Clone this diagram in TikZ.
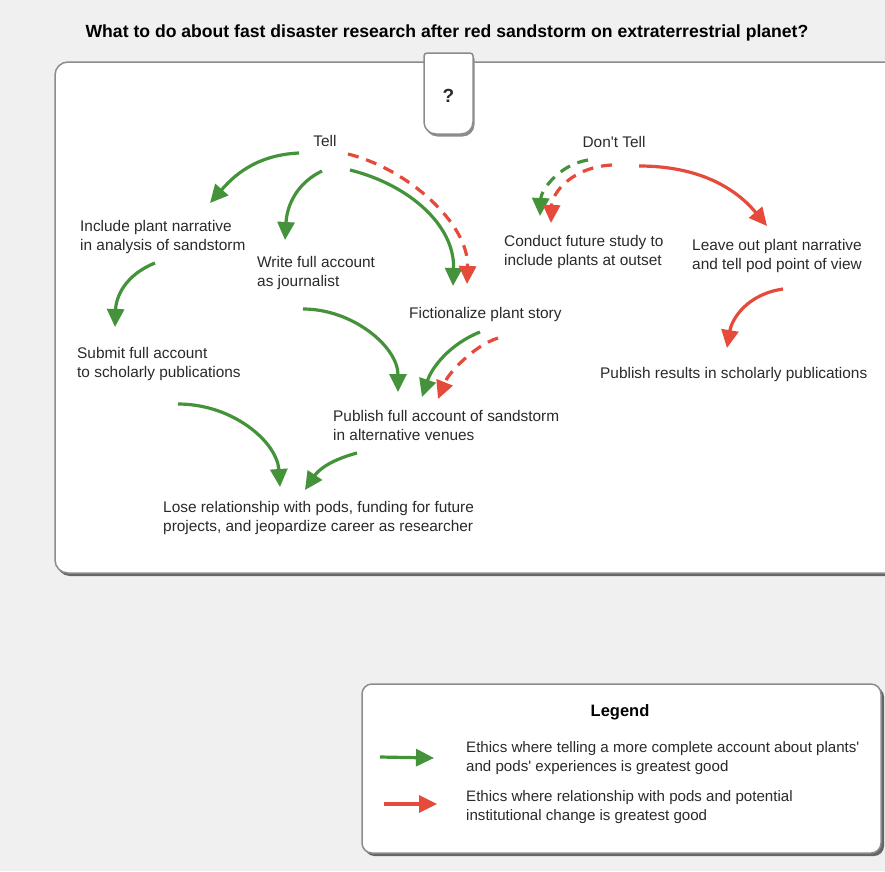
\documentclass[tikz,border=0pt]{standalone}
\usepackage{fontspec}
\setmainfont{Liberation Sans}
\usetikzlibrary{arrows.meta}
\definecolor{bggray}{HTML}{F0F0F0}
\definecolor{boxline}{HTML}{8C8C8C}
\definecolor{gArrow}{HTML}{44923A}
\definecolor{rArrow}{HTML}{E54A3A}
\definecolor{txt}{HTML}{2A2A2A}
\tikzset{
  lbl/.style={font=\fontsize{15.4}{19}\selectfont, align=left, inner sep=0pt, text=txt},
  ttl/.style={font=\bfseries\fontsize{17.6}{19}\selectfont, inner sep=0pt, text=black},
  garrow/.style={draw=gArrow, line width=3.2pt, -{Triangle[length=18pt,width=17pt]}},
  rarrow/.style={draw=rArrow, line width=3.2pt, -{Triangle[length=18pt,width=17pt]}},
  dsh/.style={dash pattern=on 11pt off 8pt},
  boxstyle/.style={fill=white, draw=boxline, line width=1.5pt},
  shadowstyle/.style={fill=black!60},
}
\begin{document}
\begin{tikzpicture}[x=1pt,y=-1pt]
\useasboundingbox (0,0) rectangle (885,871);
\clip (0,0) rectangle (885,871);
\fill[bggray] (0,0) rectangle (885,871);

% title
\node[ttl] (title) at (447,33) {What to do about fast disaster research after red sandstorm on extraterrestrial planet?};

% main box
\fill[shadowstyle, rounded corners=13pt] (57,65.5) rectangle (930,576);
\draw[boxstyle, rounded corners=13pt] (55,62) rectangle (930,573);

% question box
\fill[black!45] (450,136.5) [rounded corners=12pt] -- (425.5,136.5) [rounded corners=3pt] -- (425.5,56) -- (474.5,56) [rounded corners=12pt] -- (474.5,136.5) -- cycle;
\draw[boxstyle] (448,134) [rounded corners=12pt] -- (424,134) [rounded corners=3pt] -- (424,53) -- (473,53) [rounded corners=12pt] -- (473,134) -- cycle;
\node[font=\bfseries\fontsize{19}{21}\selectfont, inner sep=0pt, text=txt] (q) at (448.5,96) {?};

% nodes
\node[lbl] (tell) at (325,141) {Tell};
\node[lbl] (dtell) at (614,142) {Don\textquotesingle t Tell};
\node[lbl, anchor=west] (incl) at (80,237.5) {Include plant narrative\\in analysis of sandstorm};
\node[lbl, anchor=west] (write) at (257,273.5) {Write full account\\as journalist};
\node[lbl, anchor=west] (fict) at (409,315) {Fictionalize plant story};
\node[lbl, anchor=west] (subm) at (77,364) {Submit full account\\to scholarly publications};
\node[lbl, anchor=west] (publ) at (333,425.5) {Publish full account of sandstorm\\in alternative venues};
\node[lbl, anchor=west] (lose) at (163,518.5) {Lose relationship with pods, funding for future\\projects, and jeopardize career as researcher};
\node[lbl, anchor=west] (cond) at (504,252.5) {Conduct future study to\\include plants at outset};
\node[lbl, anchor=west] (leave) at (692,256.5) {Leave out plant narrative\\and tell pod point of view};
\node[lbl, anchor=west] (pubr) at (600,375) {Publish results in scholarly publications};

% arrow end coordinates
\coordinate (a1s) at (299,153);  \coordinate (a1e) at (210,203);
\coordinate (a2s) at (322,171);  \coordinate (a2e) at (285,240);
\coordinate (a3s) at (350,170);  \coordinate (a3e) at (453,286);
\coordinate (a4s) at (348,154);  \coordinate (a4e) at (467,284);
\coordinate (a5s) at (155,263);  \coordinate (a5e) at (115,327);
\coordinate (a6s) at (303,309);  \coordinate (a6e) at (398,392);
\coordinate (a7s) at (480,332);  \coordinate (a7e) at (422,397);
\coordinate (a8s) at (498,338);  \coordinate (a8e) at (438,399);
\coordinate (a9s) at (178,404);  \coordinate (a9e) at (280,487);
\coordinate (a10s) at (357,453); \coordinate (a10e) at (305,490);
\coordinate (a11s) at (588,160); \coordinate (a11e) at (540,216);
\coordinate (a12s) at (612,165); \coordinate (a12e) at (551,223);
\coordinate (a13s) at (639,166); \coordinate (a13e) at (767,226);
\coordinate (a14s) at (783,289); \coordinate (a14e) at (727,348);

% arrows
\draw[garrow] (a1s) .. controls +(-45,2) and +(22,-25) .. (a1e);
\draw[garrow] (a2s) .. controls +(-25,12) and +(2,-35) .. (a2e);
\draw[garrow] (a3s) .. controls +(60,15) and +(2,-60) .. (a3e);
\draw[rarrow, dsh] (a4s) .. controls +(60,15) and +(2,-60) .. (a4e);
\draw[garrow] (a5s) .. controls +(-30,12) and +(1,-30) .. (a5e);
\draw[garrow] (a6s) .. controls +(50,0) and +(0,-45) .. (a6e);
\draw[garrow] (a7s) .. controls +(-30,12) and +(10,-30) .. (a7e);
\draw[rarrow, dsh] (a8s) .. controls +(-25,8) and +(10,-25) .. (a8e);
\draw[garrow] (a9s) .. controls +(55,0) and +(-3,-45) .. (a9e);
\draw[garrow] (a10s) .. controls +(-30,8) and +(12,-18) .. (a10e);
\draw[garrow, dsh] (a11s) .. controls +(-30,5) and +(1,-25) .. (a11e);
\draw[rarrow, dsh] (a12s) .. controls +(-40,2) and +(1,-30) .. (a12e);
\draw[rarrow] (a13s) .. controls +(70,0) and +(-25,-30) .. (a13e);
\draw[rarrow] (a14s) .. controls +(-35,5) and +(5,-30) .. (a14e);

% legend
\fill[shadowstyle, rounded corners=10pt] (364.5,687) rectangle (884,856);
\draw[boxstyle, rounded corners=10pt] (362,684) rectangle (881,853);
\node[font=\bfseries\fontsize{16.5}{19}\selectfont, inner sep=0pt] (legend) at (620,712) {Legend};
\coordinate (lg1s) at (380,757); \coordinate (lg1e) at (434,758);
\coordinate (lg2s) at (384,804); \coordinate (lg2e) at (437,804);
\draw[garrow] (lg1s) -- (lg1e);
\draw[rarrow] (lg2s) -- (lg2e);
\node[lbl, anchor=west, font=\fontsize{15.1}{19}\selectfont] (lt1) at (466,758.5) {Ethics where telling a more complete account about plants\textquotesingle\\and pods\textquotesingle\ experiences is greatest good};
\node[lbl, anchor=west, font=\fontsize{15.1}{19}\selectfont] (lt2) at (466,807.5) {Ethics where relationship with pods and potential\\institutional change is greatest good};
\end{tikzpicture}
\end{document}
